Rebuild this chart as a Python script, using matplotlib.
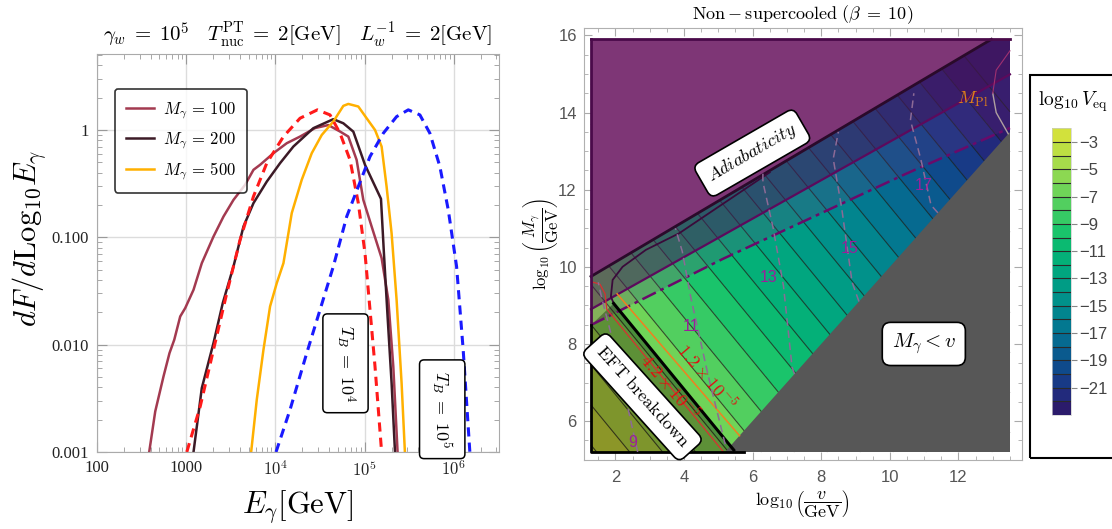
import numpy as np
import matplotlib
matplotlib.use("Agg")
import matplotlib.pyplot as plt
from matplotlib.colors import ListedColormap, Normalize
from matplotlib.colorbar import ColorbarBase
from matplotlib.patches import Rectangle
from matplotlib.ticker import FixedLocator, NullFormatter, MultipleLocator

plt.rcParams["mathtext.fontset"] = "cm"
plt.rcParams["font.family"] = ["Liberation Serif", "DejaVu Serif"]

# ---------------- left panel data: dF/dLog10 E ----------------
e_m100 = [385, 450, 557, 650, 735, 857, 975, 1208, 1496, 2023, 2618, 3388, 4571, 5675,
          6730, 9506, 13400, 18880, 27800, 39170, 52970, 65610, 81280, 96600, 119700,
          154900, 184100, 209400, 233900]
f_m100 = [0.001, 0.00239, 0.00506, 0.00834, 0.0111, 0.0183, 0.0219, 0.0324, 0.0574, 0.1016,
          0.156, 0.223, 0.308, 0.425, 0.473, 0.607, 0.752, 0.867, 1.04, 1.11, 0.966, 0.867,
          0.526, 0.223, 0.126, 0.064, 0.0262, 0.00627, 0.001]
e_m200 = [1208, 1496, 2023, 2570, 3388, 4385, 5675, 7998, 11270, 15890, 26610, 44570, 57680,
          74650, 100900, 152400, 164400, 180700, 200400, 218800]
f_m200 = [0.001, 0.00394, 0.01035, 0.02438, 0.0535, 0.126, 0.208, 0.330, 0.490, 0.700, 1.038,
          1.259, 1.153, 0.964, 0.473, 0.228, 0.0711, 0.0183, 0.00439, 0.001]
e_m500 = [5346, 6180, 7345, 8710, 10350, 12300, 15240, 19720, 25530, 33040, 44570, 57680,
          65610, 84920, 105200, 130600, 154900, 176200, 200400, 228000, 259400, 282500]
f_m500 = [0.001, 0.00307, 0.00897, 0.0227, 0.0374, 0.0574, 0.168, 0.343, 0.607, 0.897, 1.197,
          1.675, 1.746, 1.652, 1.285, 1.0, 0.700, 0.296, 0.109, 0.0262, 0.00439, 0.001]
e_tb4 = [1016, 1436, 2023, 2851, 4018, 5675, 7998, 12300, 18880, 29510, 40930, 52970, 68550,
         84920, 100900, 114800, 130600, 154900]
f_tb4 = [0.001, 0.00266, 0.00897, 0.0302, 0.0946, 0.240, 0.490, 0.867, 1.285, 1.538, 1.380,
         0.931, 0.526, 0.208, 0.0711, 0.0211, 0.00627, 0.001]
e_tb5 = [10160, 14590, 22440, 31620, 44570, 62950, 84920, 114800, 161800, 228000, 308300,
         415900, 538300, 696600, 865000, 1072000, 1271000, 1510000]
f_tb5 = [0.001, 0.00248, 0.00834, 0.0211, 0.0535, 0.156, 0.297, 0.565, 0.931, 1.330, 1.538,
         1.380, 0.931, 0.456, 0.180, 0.0535, 0.00897, 0.001]

mass_labels = [r"$M_\gamma \,=\, 100$", r"$M_\gamma \,=\, 200$", r"$M_\gamma \,=\, 500$"]
x_ticks = [100, 1000, 1e4, 1e5, 1e6]
x_ticklabels = ["100", "1000", r"$10^4$", r"$10^5$", r"$10^6$"]
y_ticks = [0.001, 0.01, 0.1, 1]
y_ticklabels = ["0.001", "0.010", "0.100", "1"]

# ---------------- right panel data: log10 V_eq field ----------------
log_v_nodes = [1.29, 4.0, 7.0, 10.0, 13.5]
log_m_nodes = [5.2, 8.0, 11.0, 14.0, 15.9]
log_veq = [[-1.83, -4.65, -7.77, -10.89, -14.53],
           [-4.52, -7.34, -10.46, -13.58, -17.22],
           [-7.40, -10.22, -13.34, -16.46, -20.10],
           [-10.28, -13.10, -16.22, -19.34, -22.98],
           [-12.11, -14.92, -18.04, -21.16, -24.80]]
veq_levels = list(range(-23, -1))
cbar_ticks = [-3, -5, -7, -9, -11, -13, -15, -17, -19, -21]
band_colors = ["#2b1b6b", "#222a7c", "#183a86", "#0f4a8b", "#0a5a8e", "#066a90", "#037890",
               "#02858e", "#01918a", "#009c85", "#01a67f", "#04b078", "#0bba71", "#1ac46b",
               "#36ca65", "#52cf5f", "#6fd458", "#8cd852", "#a6dc4b", "#bddf43", "#d2e13c"]

# boundaries (log10 v, log10 M)
adiab_v, adiab_m = [1.29, 12.96], [9.75, 15.9]
pline_v, pline_m = [1.29, 13.5], [8.9, 14.99]
dd_v, dd_m = [1.29, 5.12, 10.44, 13.5], [8.49, 10.2, 12.4, 13.6]
eft_v, eft_m = [1.95, 5.45], [9.05, 5.25]
ucurve_v = [6.5, 3.86, 2.89, 2.21, 1.92, 1.87, 1.95]
ucurve_m = [12.45, 10.87, 10.44, 10.0, 9.66, 9.23, 9.05]
red_v, red_m = [5.15, 1.75, 1.7, 1.55, 1.35], [5.2, 8.9, 9.3, 9.55, 9.6]
orange_v, orange_m = [2.05, 5.62], [9.3, 5.62]
dashed_curves = {
    "9": ([2.65, 2.3, 1.95, 1.6, 1.5], [5.2, 6.6, 8.0, 9.2, 9.6], (2.5, 5.45)),
    "11": ([5.2, 4.7, 4.2, 3.95, 3.75], [5.4, 7.2, 9.2, 10.4, 11.0], (4.2, 8.45)),
    "13": ([7.22, 7.15, 6.9, 6.6, 6.3, 6.3], [7.22, 7.4, 9.5, 11.0, 12.2, 12.8], (6.48, 9.71)),
    "15": ([9.1, 8.9, 8.6, 8.35, 8.5], [9.1, 9.6, 11.5, 12.8, 13.5], (8.82, 10.48)),
    "17": ([11.4, 11.2, 10.9, 10.6, 10.7], [11.4, 11.6, 12.8, 13.8, 14.5], (10.99, 12.11)),
}

fig = plt.figure(figsize=(11.12, 5.29), dpi=100)

# ======================= left panel =======================
ax1 = fig.add_axes([0.0872, 0.1456, 0.3615, 0.7524])
ax1.set_xscale("log")
ax1.set_yscale("log")
ax1.plot(e_m100, f_m100, color="#a33a50", lw=1.8, label=mass_labels[0])
ax1.plot(e_m200, f_m200, color="#3c1a26", lw=1.8, label=mass_labels[1])
ax1.plot(e_m500, f_m500, color="#ffb000", lw=1.8, label=mass_labels[2])
ax1.plot(e_tb4, f_tb4, color="#ff1a1a", lw=2.2, ls=(0, (3, 2)))
ax1.plot(e_tb5, f_tb5, color="#1a1aff", lw=2.2, ls=(0, (3, 2)))
ax1.set_xlim(100, 3.2e6)
ax1.set_ylim(1e-3, 5.1)
ax1.xaxis.set_major_locator(FixedLocator(x_ticks))
ax1.set_xticklabels(x_ticklabels)
ax1.yaxis.set_major_locator(FixedLocator(y_ticks))
ax1.set_yticklabels(y_ticklabels)
ax1.xaxis.set_minor_formatter(NullFormatter())
ax1.yaxis.set_minor_formatter(NullFormatter())
ax1.tick_params(which="both", direction="in", top=True, right=True, color="#999999",
                labelsize=12, labelcolor="#222222")
ax1.tick_params(which="major", length=7, pad=6)
ax1.tick_params(which="minor", length=3.5)
ax1.grid(True, which="major", color="#dcdcdc", lw=1)
for sp in ax1.spines.values():
    sp.set_color("#aaaaaa")
ax1.set_title(r"$\gamma_w \;=\; 10^5 \quad T^{\rm PT}_{\rm nuc} \;=\; 2[{\rm GeV}] \quad "
              r"L_w^{-1} \;=\; 2[{\rm GeV}]$", fontsize=15, pad=9)
leg = ax1.legend(loc="upper left", bbox_to_anchor=(0.045, 0.912), borderaxespad=0,
                 fontsize=12, handlelength=1.7, handletextpad=0.5, frameon=True,
                 fancybox=True, labelspacing=0.55, borderpad=0.65)
leg.get_frame().set_edgecolor("black")
leg.get_frame().set_linewidth(1.2)
tb_box = dict(boxstyle="round,pad=0.6,rounding_size=0.25", fc="white", ec="black", lw=1.1)
ax1.text(6.1e4, 0.0067, r"$T_B \;=\; 10^4$", rotation=270, ha="center", va="center",
         fontsize=13, bbox=tb_box)
ax1.text(7.4e5, 0.0025, r"$T_B \;=\; 10^5$", rotation=270, ha="center", va="center",
         fontsize=13, bbox=tb_box)
fig.text(0.027, 0.55, r"$dF/d\mathrm{Log}_{10}E_\gamma$", rotation=90, ha="center",
         va="center", fontsize=22)
fig.text(0.268, 0.041, r"$E_\gamma[\mathrm{GeV}]$", ha="center", va="center", fontsize=22)

# ======================= right panel =======================
ax2 = fig.add_axes([0.525, 0.1304, 0.3937, 0.8172])
cmap = ListedColormap(band_colors)
cmap.set_under(band_colors[0])
cmap.set_over(band_colors[-1])
norm = Normalize(vmin=veq_levels[0], vmax=veq_levels[-1])
V, M = np.meshgrid(log_v_nodes, log_m_nodes)
Z = np.array(log_veq)
ax2.contourf(V, M, Z, levels=veq_levels, cmap=cmap, norm=norm, extend="both", zorder=1)
ax2.contour(V, M, Z, levels=veq_levels, colors="#1e1e1e", linewidths=0.8, alpha=0.75,
            linestyles="solid", zorder=2)

# tinted bands
ax2.fill(pline_v + [13.5, adiab_v[1], adiab_v[0]],
         pline_m + [15.9, adiab_m[1], adiab_m[0]], color="#4e145c", alpha=0.55, lw=0, zorder=3)
ax2.fill(pline_v + dd_v[::-1], pline_m + dd_m[::-1], color="#6a2a7a", alpha=0.22, lw=0, zorder=3)
ax2.fill([1.29, 5.5, eft_v[1], eft_v[0], 1.29], [5.2, 5.2, eft_m[1], eft_m[0], 8.49],
         color="black", alpha=0.33, lw=0, zorder=3)
ax2.fill([adiab_v[0], adiab_v[1], 1.29], [adiab_m[0], adiab_m[1], 15.9],
         color="#7e3676", lw=0, zorder=4)
ax2.fill([5.2, 13.5, 13.5], [5.2, 5.2, 13.5], color="#575757", lw=0, zorder=4)

# lines
ax2.plot(adiab_v, adiab_m, color="#2a0a2a", lw=2, zorder=5)
ax2.plot(pline_v, pline_m, color="#5c0a5c", lw=1.6, zorder=5)
ax2.plot(dd_v, dd_m, color="#6a0a6a", lw=1.8, ls=(0, (6, 2, 1.5, 2)), zorder=5)
ax2.plot(ucurve_v, ucurve_m, color="#3a0a3a", lw=1.3, zorder=5)
ax2.plot(eft_v, eft_m, color="black", lw=2.2, zorder=5)
ax2.plot(red_v, red_m, color="#d83030", lw=0.9, zorder=5)
ax2.plot(orange_v, orange_m, color="#f08020", lw=1.1, zorder=5)
ax2.plot([13.0, 13.1, 13.45], [14.5, 14.0, 13.45], color="#b0a0a0", lw=1, zorder=5)
ax2.plot([13.0, 13.1, 13.5], [14.5, 15.1, 15.6], color="#a03070", lw=0.8, zorder=5)
ax2.plot([1.29, 13.5], [15.9, 15.9], color="#4a0a4a", lw=2, zorder=5)
ax2.plot([1.29, 1.29], [8.49, 15.9], color="#4a0a4a", lw=2, zorder=5)
ax2.plot([1.29, 1.29, 5.75], [8.49, 5.2, 5.2], color="black", lw=2, zorder=5)
for lab, (cv, cm, pos) in dashed_curves.items():
    ax2.plot(cv, cm, color="#8c6a96", lw=1.1, ls=(0, (5, 3)), zorder=5)
    ax2.text(pos[0], pos[1], lab, color="#9b1f9b", fontsize=11.5, ha="center", va="center",
             family="Liberation Sans", zorder=6)

white_box = dict(boxstyle="round,pad=0.45,rounding_size=0.4", fc="white", ec="black", lw=1.2)
ax2.text(5.99, 12.95, r"$\mathit{Adiabaticity}$", rotation=30, ha="center", va="center",
         fontsize=13, bbox=white_box, zorder=7, rotation_mode="anchor")
ax2.text(2.79, 6.63, r"$\mathrm{EFT\ breakdown}$", rotation=-48, ha="center", va="center",
         fontsize=13, bbox=white_box, zorder=7, rotation_mode="anchor")
ax2.text(10.99, 8.0, r"$M_\gamma < v$", ha="center", va="center", fontsize=15,
         bbox=white_box, zorder=7)
ax2.text(4.64, 7.15, r"$1.2\times10^{-5}$", rotation=-49.6, ha="center", va="center",
         fontsize=13, color="#e01010", zorder=6, rotation_mode="anchor")
ax2.text(3.57, 6.89, r"$4.2\times10^{-5}$", rotation=-49.6, ha="center", va="center",
         fontsize=13, color="#e01010", zorder=6, rotation_mode="anchor")
ax2.text(12.4, 14.34, r"$M_{\rm Pl}$", ha="center", va="center", fontsize=13,
         color="#e0801a", zorder=6)

ax2.set_xlim(1.08, 13.84)
ax2.set_ylim(4.99, 16.2)
ax2.xaxis.set_major_locator(FixedLocator([2, 4, 6, 8, 10, 12]))
ax2.yaxis.set_major_locator(FixedLocator([6, 8, 10, 12, 14, 16]))
ax2.xaxis.set_minor_locator(MultipleLocator(0.5))
ax2.yaxis.set_minor_locator(MultipleLocator(0.5))
ax2.tick_params(which="both", direction="in", top=True, right=True, color="#aaaaaa")
ax2.tick_params(which="major", length=6, labelsize=12, labelcolor="#555555", pad=7)
ax2.tick_params(axis="y", which="major", pad=5)
ax2.tick_params(which="minor", length=3)
for lbl in ax2.get_xticklabels() + ax2.get_yticklabels():
    lbl.set_family("Liberation Sans")
for sp in ax2.spines.values():
    sp.set_color("#b0b0b0")
ax2.set_title(r"$\mathrm{Non} - \mathrm{supercooled}\ (\beta \;=\; 10)$", fontsize=13, pad=6)
ax2.text(0.5, -0.1, r"$\log_{10}\left(\dfrac{v}{\mathrm{GeV}}\right)$", transform=ax2.transAxes,
         ha="center", va="center", fontsize=13)
ax2.text(-0.098, 0.5, r"$\log_{10}\left(\dfrac{M_\gamma}{\mathrm{GeV}}\right)$",
         transform=ax2.transAxes, ha="center", va="center", fontsize=12, rotation=90)

# ---- colour bar legend ----
fig.patches.append(Rectangle((0.926, 0.134), 0.2, 0.724, transform=fig.transFigure,
                             fc="none", ec="black", lw=1.5))
cax = fig.add_axes([0.9458, 0.2155, 0.01736, 0.542])
cb = ColorbarBase(cax, cmap=cmap, norm=norm, boundaries=veq_levels, ticks=cbar_ticks)
cb.outline.set_edgecolor("#cccccc")
cb.outline.set_linewidth(0.5)
cax.hlines(veq_levels[1:-1], 0, 1, colors="#2a2a2a", lw=0.8)
cax.set_yticklabels([f"\u2212{abs(t)}" for t in cbar_ticks])
cax.tick_params(length=4, color="#888888", labelsize=12, labelcolor="#444444", pad=2)
for lbl in cax.get_yticklabels():
    lbl.set_family("Liberation Sans")
fig.text(0.965, 0.808, r"$\log_{10}V_{\rm eq}$", ha="center", va="center", fontsize=14)

fig.savefig("out.png", dpi=100)
